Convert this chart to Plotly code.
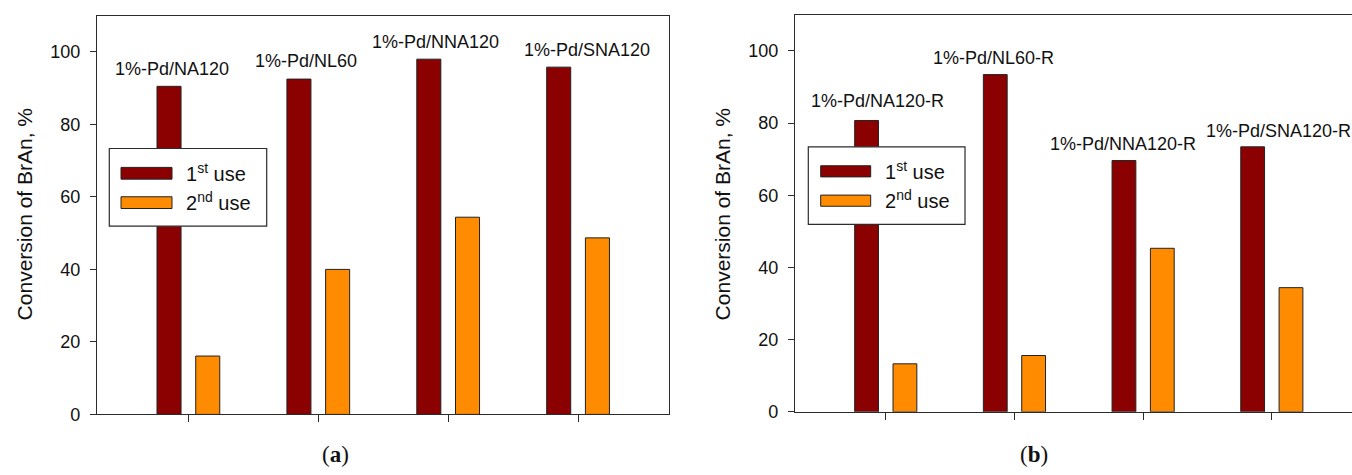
import plotly.graph_objects as go

# Catalyst series and conversion of BrAn (%) for the two uses
catalysts_a = ["1%-Pd/NA120", "1%-Pd/NL60", "1%-Pd/NNA120", "1%-Pd/SNA120"]
first_use_a = [90.5, 92.5, 98.0, 95.8]
second_use_a = [16.1, 40.0, 54.4, 48.7]

catalysts_b = ["1%-Pd/NA120-R", "1%-Pd/NL60-R", "1%-Pd/NNA120-R", "1%-Pd/SNA120-R"]
first_use_b = [80.7, 93.4, 69.6, 73.4]
second_use_b = [13.3, 15.6, 45.3, 34.4]

series_names = ["1<sup>st</sup> use", "2<sup>nd</sup> use"]
y_ticks = [0, 20, 40, 60, 80, 100]

W, H = 1352, 475
DARK_RED = "#8B0000"
ORANGE = "#FF8C00"
LINE = "#2b2b2b"
FONT = "Liberation Sans, Arial, sans-serif"

BAR_W = 0.185
BAR_SHIFT = 0.149


def px(x):
    return x / W


def py(y):
    return 1 - y / H


fig = go.Figure()

panels = [
    ("x", "y", catalysts_a, first_use_a, second_use_a),
    ("x2", "y2", catalysts_b, first_use_b, second_use_b),
]

for xa, ya, cats, v1, v2 in panels:
    pos = list(range(len(cats)))
    fig.add_trace(go.Bar(
        x=pos, y=v1, width=BAR_W, offset=-BAR_SHIFT - BAR_W / 2,
        marker=dict(color=DARK_RED, line=dict(color="#222", width=1)),
        name=series_names[0], showlegend=False, xaxis=xa, yaxis=ya,
    ))
    fig.add_trace(go.Bar(
        x=pos, y=v2, width=BAR_W, offset=BAR_SHIFT - BAR_W / 2,
        marker=dict(color=ORANGE, line=dict(color="#222", width=1)),
        name=series_names[1], showlegend=False, xaxis=xa, yaxis=ya,
    ))

# catalyst labels above the bars (data coordinates)
label_pos_a = [(-0.128, 95.3), (0.906, 97.4), (1.903, 102.8), (3.065, 100.4)]
label_pos_b = [(-0.068, 86.0), (0.837, 97.9), (1.841, 74.2), (3.051, 77.8)]

annotations = []
for (xa, ya, cats, _, _), label_pos in zip(panels, [label_pos_a, label_pos_b]):
    for name, (lx, ly) in zip(cats, label_pos):
        annotations.append(dict(
            x=lx, y=ly, xref=xa, yref=ya, text=name, showarrow=False,
            xanchor="center", yanchor="middle",
            font=dict(family=FONT, size=18, color="#111"),
        ))

# y-axis titles
for xc in (24, 722):
    annotations.append(dict(
        x=px(xc), y=py(219), xref="paper", yref="paper",
        text="Conversion of BrAn, %", textangle=-90, showarrow=False,
        xanchor="center", yanchor="middle",
        font=dict(family=FONT, size=21, color="#111"),
    ))

# panel letters
for xc, letter in ((335, "a"), (1034, "b")):
    annotations.append(dict(
        x=px(xc), y=py(464), xref="paper", yref="paper",
        text=f"(<b>{letter}</b>)", showarrow=False,
        xanchor="center", yanchor="middle",
        font=dict(family="Liberation Serif, Times New Roman, serif", size=23, color="#111"),
    ))

shapes = []
# hand-drawn legends: frame, swatches and labels
legends = [
    dict(box=(109.3, 151.7, 266.7, 231.0), sw_x=(121, 172), sw_y=[(171, 183), (201, 213)], tx=184),
    dict(box=(808.3, 150.0, 965.0, 229.3), sw_x=(820.7, 870.7), sw_y=[(169.3, 180.7), (199.3, 210.7)], tx=883),
]
for lg in legends:
    x0, y0, x1, y1 = lg["box"]
    shapes.append(dict(type="rect", xref="paper", yref="paper",
                       x0=px(x0), x1=px(x1), y0=py(y1), y1=py(y0),
                       line=dict(color=LINE, width=1.2), fillcolor="white", layer="above"))
    for (sy0, sy1), color, name in zip(lg["sw_y"], [DARK_RED, ORANGE], series_names):
        shapes.append(dict(type="rect", xref="paper", yref="paper",
                           x0=px(lg["sw_x"][0]), x1=px(lg["sw_x"][1]),
                           y0=py(sy1), y1=py(sy0),
                           line=dict(color="#222", width=1), fillcolor=color, layer="above"))
        annotations.append(dict(
            x=px(lg["tx"]), y=py((sy0 + sy1) / 2 - 1), xref="paper", yref="paper",
            text=name, showarrow=False, xanchor="left", yanchor="middle",
            font=dict(family=FONT, size=20, color="#111"),
        ))

# short extension of the baseline to the left of each y axis
for xa, ya, x_left in (("x", "y", -0.705), ("x2", "y2", -0.706)):
    shapes.append(dict(type="line", xref=xa, yref=ya,
                       x0=x_left - 0.052, x1=x_left, y0=0, y1=0,
                       line=dict(color=LINE, width=1)))

axis_common = dict(showgrid=False, zeroline=False, showline=True,
                   linecolor=LINE, linewidth=1, ticks="outside",
                   tickcolor=LINE, tickwidth=1)

fig.update_layout(
    width=W, height=H,
    margin=dict(l=0, r=0, t=0, b=0),
    paper_bgcolor="white", plot_bgcolor="white",
    showlegend=False,
    annotations=annotations,
    shapes=shapes,
    xaxis=dict(domain=[px(96.8), px(669)], range=[-0.705, 3.70],
               tickvals=[0, 1, 2, 3], showticklabels=False, ticklen=7,
               mirror=True, anchor="y", **axis_common),
    yaxis=dict(domain=[py(423.3), py(16)], range=[0, 110], tickvals=y_ticks,
               ticklen=6, mirror=True, anchor="x", ticklabelstandoff=6,
               tickfont=dict(family=FONT, size=18, color="#111"), **axis_common),
    xaxis2=dict(domain=[px(794.9), 1.0], range=[-0.706, 3.623],
                tickvals=[0, 1, 2, 3], showticklabels=False, ticklen=7,
                mirror=True, anchor="y2", **axis_common),
    yaxis2=dict(domain=[py(420.7), py(15)], range=[0, 110], tickvals=y_ticks,
                ticklen=6, mirror=False, anchor="x2", ticklabelstandoff=6,
                tickfont=dict(family=FONT, size=18, color="#111"), **axis_common),
)

fig.write_html("out.html")
